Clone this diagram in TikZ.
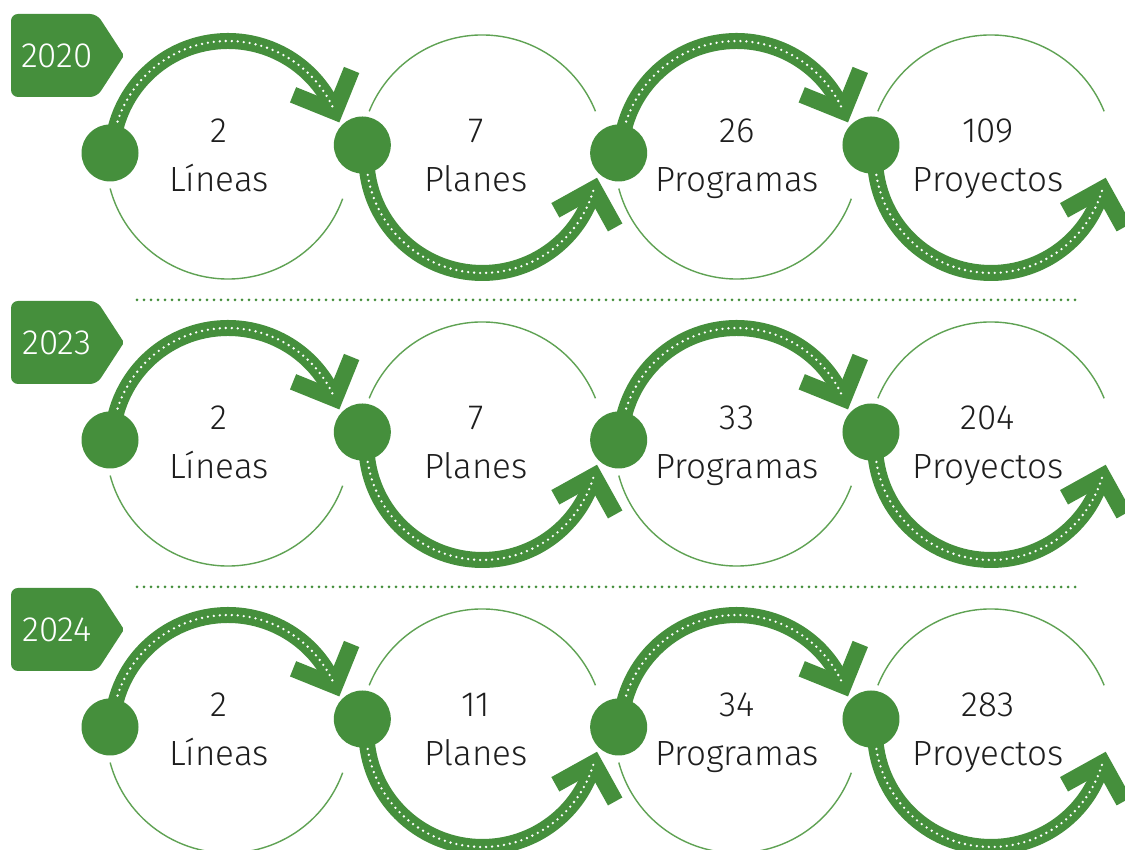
\documentclass[tikz,border=0pt]{standalone}
\usepackage{fontspec}
\setmainfont{Fira Sans}[UprightFont=* Light]
\usetikzlibrary{calc}
\definecolor{gr}{HTML}{458F3C}
\definecolor{ringc}{HTML}{5FA253}
\definecolor{txt}{HTML}{1E1E1E}
\tikzset{
  band/.style={gr, line width=16pt},
  chev/.style={gr, line width=16.5pt, line join=miter, miter limit=10},
  wdots/.style={white, line width=2.6pt, line cap=round, dash pattern=on 0pt off 6pt},
  ring/.style={ringc, line width=1.4pt},
  dotnode/.style={circle, fill=gr, minimum size=57pt, inner sep=0pt},
  numtext/.style={font=\fontsize{35}{40}\selectfont, text=txt, anchor=base, inner sep=0pt},
  yeartext/.style={font=\fontsize{35}{40}\selectfont, text=white, inner sep=0pt},
  sep/.style={gr, line width=3pt, line cap=round, dash pattern=on 0pt off 7pt},
}
\begin{document}
\begin{tikzpicture}[x=1pt,y=1pt]
\useasboundingbox (0,0) rectangle (1125,850);
\clip (0,0) rectangle (1125,850);
\fill[white] (0,0) rectangle (1125,850);
\coordinate (sepA1) at (137,550);
\coordinate (sepA2) at (1082,550);
\coordinate (sepB1) at (137,263);
\coordinate (sepB2) at (1082,263);
\draw[sep] (sepA1) -- (sepA2);
\draw[sep] (sepB1) -- (sepB2);
\foreach \cy/\yr/\na/\nb/\nc/\nd [count=\r] in {693/2020/2/7/26/109, 406/2023/2/7/33/204, 119/2024/2/11/34/283}{
  \fill[gr, rounded corners=7pt] (11,\cy+60) -- (11,\cy+143) -- (97,\cy+143) [rounded corners=2pt]-- (124,\cy+101.5) [rounded corners=7pt]-- (97,\cy+60) -- cycle;
  \node[yeartext] (y\r) at (57,\cy+101.5) {\yr};
  \foreach \i/\tx/\w/\n in {1/219/Líneas/\na, 2/476/Planes/\nb, 3/737/Programas/\nc, 4/988/Proyectos/\nd}{
    \pgfmathsetmacro\cx{228+(\i-1)*254.33}
    \coordinate (s\r\i) at (\cx-116,\cy);
    \ifodd\i
      \draw[ring] (\cx,\cy) ++(195:122) arc[start angle=195,end angle=340,radius=122];
      \coordinate (e\r\i) at (\cx+106.78,\cy+45.32);
      \draw[band] (s\r\i) arc[start angle=180,end angle=23,radius=116];
      \draw[chev] ($(e\r\i)+(158:45)$) -- (e\r\i) -- ($(e\r\i)+(68:45)$);
      \draw[wdots] (s\r\i) arc[start angle=180,end angle=23,radius=116];
      \node[dotnode] (d\r\i) at (\cx-118,\cy+4) {};
    \else
      \draw[ring] (\cx,\cy) ++(22:122) arc[start angle=22,end angle=158,radius=122];
      \coordinate (e\r\i) at (\cx+111.5,\cy-31.97);
      \draw[band] (s\r\i) arc[start angle=180,end angle=344,radius=116];
      \draw[chev] ($(e\r\i)+(209:44)$) -- (e\r\i) -- ($(e\r\i)+(299:44)$);
      \draw[wdots] (s\r\i) arc[start angle=180,end angle=344,radius=116];
      \node[dotnode] (d\r\i) at (\cx-120,\cy+12) {};
    \fi
    \node[numtext] (n\r\i) at (\tx,\cy+14) {\n};
    \node[numtext] (w\r\i) at (\tx,\cy-35) {\w};
  }
}
\end{tikzpicture}
\end{document}
